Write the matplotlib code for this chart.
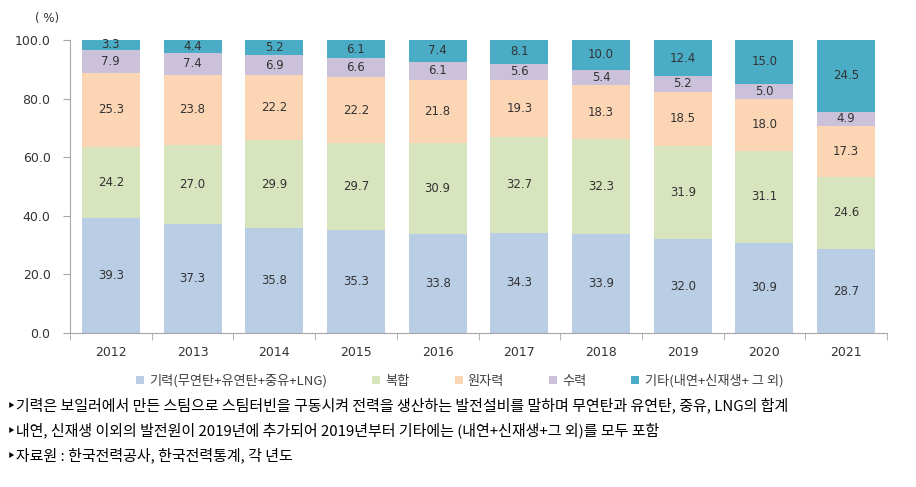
import matplotlib
matplotlib.use("Agg")
import matplotlib.pyplot as plt
import numpy as np

plt.rcParams['font.family'] = ['Noto Sans CJK KR', 'DejaVu Sans']

years = ["2012", "2013", "2014", "2015", "2016", "2017", "2018", "2019", "2020", "2021"]
thermal = [39.3, 37.3, 35.8, 35.3, 33.8, 34.3, 33.9, 32.0, 30.9, 28.7]
combined = [24.2, 27.0, 29.9, 29.7, 30.9, 32.7, 32.3, 31.9, 31.1, 24.6]
nuclear = [25.3, 23.8, 22.2, 22.2, 21.8, 19.3, 18.3, 18.5, 18.0, 17.3]
hydro = [7.9, 7.4, 6.9, 6.6, 6.1, 5.6, 5.4, 5.2, 5.0, 4.9]
other = [3.3, 4.4, 5.2, 6.1, 7.4, 8.1, 10.0, 12.4, 15.0, 24.5]

series = [thermal, combined, nuclear, hydro, other]
names = ["기력(무연탄+유연탄+중유+LNG)", "복합", "원자력", "수력", "기타(내연+신재생+ 그 외)"]
colors = ["#B9CDE5", "#D7E4BD", "#FCD5B5", "#CCC1DA", "#4BACC6"]

notes = [
    "‣기력은 보일러에서 만든 스팀으로 스팀터빈을 구동시켜 전력을 생산하는 발전설비를 말하며 무연탄과 유연탄, 중유, LNG의 합계",
    "‣내연, 신재생 이외의 발전원이 2019년에 추가되어 2019년부터 기타에는 (내연+신재생+그 외)를 모두 포함",
    "‣자료원 : 한국전력공사, 한국전력통계, 각 년도",
]

fig = plt.figure(figsize=(9.16, 4.87), dpi=100)
ax = fig.add_axes([0.0764, 0.316, 0.892, 0.602])

x = np.arange(len(years))
bottom = np.zeros(len(years))
for vals, name, c in zip(series, names, colors):
    vals = np.array(vals)
    ax.bar(x, vals, 0.71, bottom=bottom, color=c, label=name)
    for xi, b, v in zip(x, bottom, vals):
        ax.text(xi, b + v / 2, f"{v:.1f}", ha="center", va="center",
                fontsize=8.5, color="#333333", family="DejaVu Sans")
    bottom += vals

ax.set_xlim(-0.5, len(years) - 0.5)
ax.set_ylim(0, 100)
ax.set_yticks(np.arange(0, 101, 20))
ax.set_yticklabels([f"{v:.1f}" for v in np.arange(0, 101, 20)], family="DejaVu Sans")
ax.set_xticks(x)
ax.set_xticklabels(years, family="DejaVu Sans")
ax.set_xticks(np.arange(-0.5, len(years), 1), minor=True)
ax.tick_params(axis="x", which="major", length=0, pad=9, labelsize=9, labelcolor="#333333")
ax.tick_params(axis="x", which="minor", length=5, color="#A6A6A6")
ax.tick_params(axis="y", length=5, color="#A6A6A6", labelsize=9, labelcolor="#333333", pad=9)
for s in ["top", "right"]:
    ax.spines[s].set_visible(False)
for s in ["left", "bottom"]:
    ax.spines[s].set_color("#A6A6A6")

fig.text(0.038, 0.975, "( %)", fontsize=8.5, color="#333333", va="top", family="DejaVu Sans")

fig.legend(loc="center", bbox_to_anchor=(0.502, 0.218), ncol=5, frameon=False,
           fontsize=9.5, handlelength=0.6, handleheight=0.6, handletextpad=0.4,
           columnspacing=3.4, labelcolor="#404040")

for i, t in enumerate(notes):
    fig.text(0.008, 0.168 - i * 0.052, t, fontsize=10.8, color="black", va="center",
             fontweight="medium")

fig.savefig("out.png", dpi=100)
